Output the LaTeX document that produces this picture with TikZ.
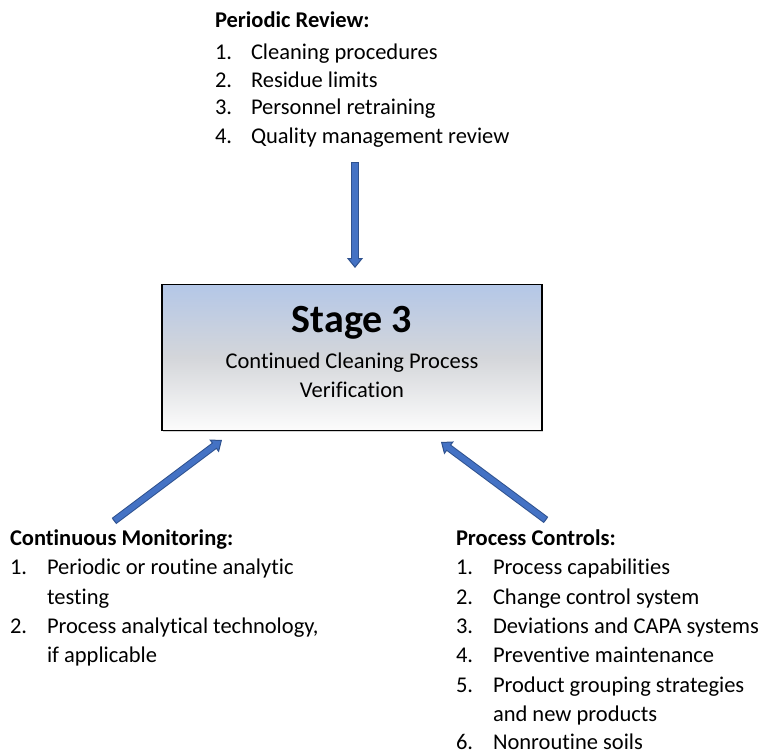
\documentclass[tikz,border=0pt]{standalone}
\usepackage{fontspec}
\setmainfont{Carlito}[Ligatures=NoCommon]
\usetikzlibrary{arrows.meta,shadows}

\definecolor{boxtop}{RGB}{180,199,231}
\definecolor{boxmid}{RGB}{212,214,218}
\definecolor{boxbot}{RGB}{252,252,252}
\definecolor{arrowfill}{RGB}{68,114,196}
\definecolor{arrowedge}{RGB}{47,82,143}

\tikzset{
  body/.style={anchor=base west, inner sep=0pt, outer sep=0pt,
    font=\fontsize{22.5}{27}\selectfont},
  head/.style={body, font=\fontsize{22.5}{27}\selectfont\bfseries},
  stagebox/.style={draw=black, line width=1.3pt, rectangle, inner sep=0pt,
    minimum width=380pt, minimum height=146pt,
    top color=boxtop, bottom color=boxbot, middle color=boxmid,
    drop shadow={shadow xshift=1.2pt, shadow yshift=-1.2pt, opacity=0.35}},
  boxtitle/.style={anchor=base, inner sep=0pt, font=\fontsize{40}{48}\selectfont\bfseries},
  boxsub/.style={anchor=base, inner sep=0pt, font=\fontsize{22.5}{27}\selectfont},
  blockarrow/.style={
    preaction={draw=arrowedge, line width=7.5pt, arrows=-, shorten >=9pt},
    draw=arrowedge, line width=5.5pt,
    -{Triangle[length=10pt, width=16pt, fill=arrowfill, line width=1pt]},
    postaction={draw=arrowfill, line width=5.5pt, arrows=-, shorten >=6pt, shorten <=1pt}}
}

\begin{document}
\begin{tikzpicture}[x=1pt, y=1pt]
  \useasboundingbox (0,0) rectangle (764,-752);

  % central stage box
  \node[stagebox] (stage) at (352,-357.5) {};
  \node[boxtitle] (stagetitle) at (352,-332) {Stage 3};
  \node[boxsub] (stagesub1) at (352,-368) {Continued Cleaning Process};
  \node[boxsub] (stagesub2) at (352,-397) {Verification};

  % periodic review list
  \node[head] (prh) at (215,-28) {Periodic Review:};
  \node[body] (prn1) at (215,-60) {1.};
  \node[body] (prt1) at (251,-60) {Cleaning procedures};
  \node[body] (prn2) at (215,-88) {2.};
  \node[body] (prt2) at (251,-88) {Residue limits};
  \node[body] (prn3) at (215,-115) {3.};
  \node[body] (prt3) at (251,-115) {Personnel retraining};
  \node[body] (prn4) at (215,-143) {4.};
  \node[body] (prt4) at (251,-143) {Quality management review};

  % continuous monitoring list
  \node[head] (cmh) at (10,-545) {Continuous Monitoring:};
  \node[body] (cmn1) at (10,-574) {1.};
  \node[body] (cmt1) at (47,-574) {Periodic or routine analytic};
  \node[body] (cmt1b) at (47,-604) {testing};
  \node[body] (cmn2) at (10,-633) {2.};
  \node[body] (cmt2) at (47,-633) {Process analytical technology,};
  \node[body] (cmt2b) at (47,-662) {if applicable};

  % process controls list
  \node[head] (pch) at (456,-545) {Process Controls:};
  \node[body] (pcn1) at (456,-574) {1.};
  \node[body] (pct1) at (493,-574) {Process capabilities};
  \node[body] (pcn2) at (456,-604) {2.};
  \node[body] (pct2) at (493,-604) {Change control system};
  \node[body] (pcn3) at (456,-633) {3.};
  \node[body] (pct3) at (493,-633) {Deviations and CAPA systems};
  \node[body] (pcn4) at (456,-662) {4.};
  \node[body] (pct4) at (493,-662) {Preventive maintenance};
  \node[body] (pcn5) at (456,-692) {5.};
  \node[body] (pct5) at (493,-692) {Product grouping strategies};
  \node[body] (pct5b) at (493,-721) {and new products};
  \node[body] (pcn6) at (456,-749) {6.};
  \node[body] (pct6) at (493,-749) {Nonroutine soils};

  % arrow end points
  \coordinate (topTail) at (355,-162);
  \coordinate (topTip) at (355,-268);
  \coordinate (leftTail) at (114,-521);
  \coordinate (leftTip) at (222,-440);
  \coordinate (rightTail) at (546,-520);
  \coordinate (rightTip) at (441,-442);

  \draw[blockarrow] (topTail) -- (topTip);
  \draw[blockarrow] (leftTail) -- (leftTip);
  \draw[blockarrow] (rightTail) -- (rightTip);
\end{tikzpicture}
\end{document}
